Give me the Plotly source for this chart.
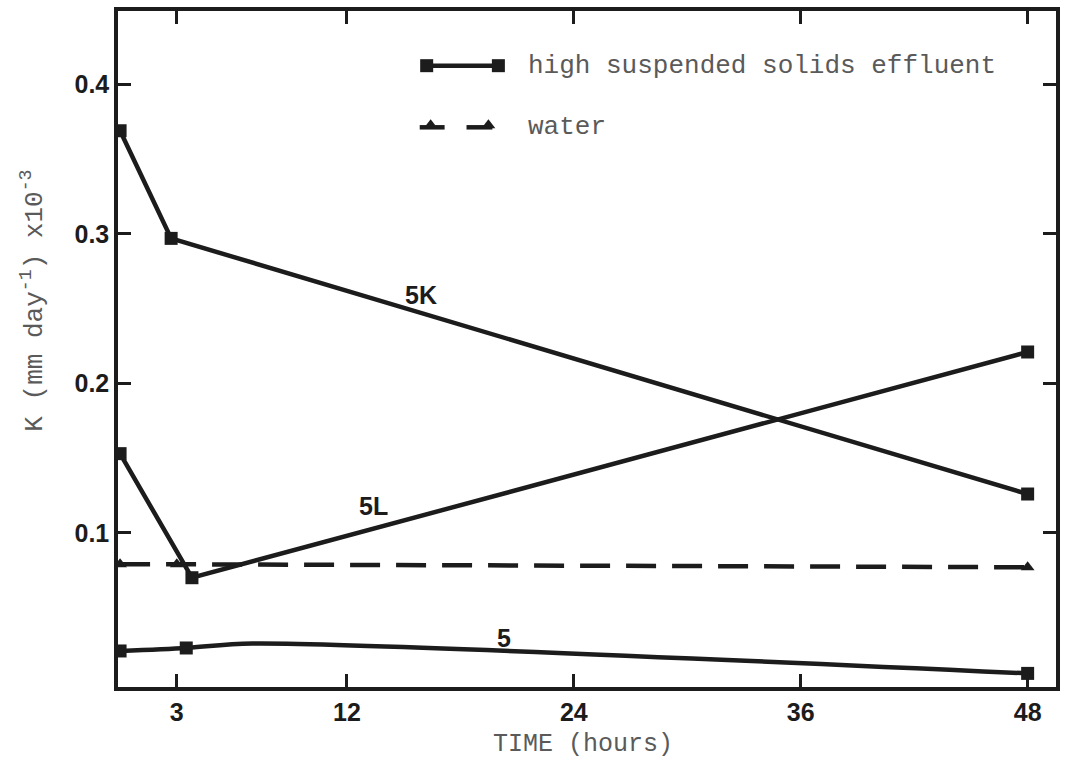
import plotly.graph_objects as go

# Hydraulic conductivity K (mm day^-1 x10^-3) against time (hours)
hours_5k = [0, 2.7, 48]
k_5k = [0.369, 0.297, 0.126]

hours_5l = [0, 3.8, 48]
k_5l = [0.153, 0.070, 0.221]

# curve 5 is smoothed through a crest near 7 h (no sample marker there)
hours_5 = [0, 3.5, 7, 48]
k_5 = [0.021, 0.023, 0.026, 0.006]
sampled_5 = [True, True, False, True]

hours_water = [0, 3, 48]
k_water = [0.079, 0.079, 0.077]

x_ticks = [3, 12, 24, 36, 48]
y_ticks = [0.1, 0.2, 0.3, 0.4]

INK = "#1c1c1c"
GREY_TEXT = "#5a5a5a"
TYPE_FONT = "Liberation Mono, DejaVu Sans Mono, monospace"
BOLD_FONT = "Liberation Sans Narrow, Liberation Sans, Arial, sans-serif"

PLOT_L, PLOT_R, PLOT_T, PLOT_B = 118, 1060, 7, 687


def px_to_paper(px, py):
    return ((px - PLOT_L) / (PLOT_R - PLOT_L), (PLOT_B - py) / (PLOT_B - PLOT_T))


fig = go.Figure()

solid = dict(color=INK, width=4.5)
sq = dict(symbol="square", size=13, color=INK)

fig.add_trace(go.Scatter(x=hours_5k, y=k_5k, mode="lines+markers",
                         line=solid, marker=sq, showlegend=False))
fig.add_trace(go.Scatter(x=hours_5l, y=k_5l, mode="lines+markers",
                         line=solid, marker=sq, showlegend=False))
fig.add_trace(go.Scatter(x=hours_5, y=k_5, mode="lines",
                         line=dict(color=INK, width=4.5, shape="spline", smoothing=0.8),
                         showlegend=False))
fig.add_trace(go.Scatter(x=[h for h, s in zip(hours_5, sampled_5) if s],
                         y=[k for k, s in zip(k_5, sampled_5) if s],
                         mode="markers", marker=sq, showlegend=False))
fig.add_trace(go.Scatter(x=hours_water, y=k_water, mode="lines+markers",
                         line=dict(color=INK, width=4.5, dash="30px,16px"),
                         marker=dict(symbol="triangle-up", size=12, color=INK),
                         showlegend=False))

# Legend key drawn on a pixel-scaled overlay axis
fig.add_trace(go.Scatter(x=[428, 500], y=[62, 62], mode="lines+markers",
                         line=solid, marker=sq, xaxis="x2", yaxis="y2",
                         showlegend=False, hoverinfo="skip"))
fig.add_trace(go.Scatter(x=[421, 446, None, 468, 494], y=[124, 124, None, 124, 124],
                         mode="lines", line=dict(color=INK, width=4.5),
                         xaxis="x2", yaxis="y2", showlegend=False, hoverinfo="skip"))
fig.add_trace(go.Scatter(x=[432, 490], y=[122, 122], mode="markers",
                         marker=dict(symbol="triangle-up", size=12, color=INK),
                         xaxis="x2", yaxis="y2", showlegend=False, hoverinfo="skip"))

legend_font = dict(family=TYPE_FONT, size=26, color=GREY_TEXT)
annotations = [
    dict(x=528, y=62, xref="x2", yref="y2", text="high suspended solids effluent",
         showarrow=False, xanchor="left", yanchor="middle", font=legend_font),
    dict(x=528, y=124, xref="x2", yref="y2", text="water",
         showarrow=False, xanchor="left", yanchor="middle", font=legend_font),
]

label_font = dict(family=BOLD_FONT, size=25, color=INK, weight="bold")
for txt, lx, ly in [("5K", 15.9, 0.259), ("5L", 13.4, 0.118), ("5", 20.3, 0.0295)]:
    annotations.append(dict(x=lx, y=ly, text=txt, showarrow=False,
                            xanchor="center", yanchor="middle", font=label_font))

yx, yy = px_to_paper(33, 298)
annotations.append(dict(x=yx, y=yy, xref="paper", yref="paper",
                        text="K (mm day<sup>-1</sup>) x10<sup>-3</sup>",
                        textangle=-90, showarrow=False,
                        xanchor="center", yanchor="middle",
                        font=dict(family=TYPE_FONT, size=26, color=GREY_TEXT)))
tx, ty = px_to_paper(585, 745)
annotations.append(dict(x=tx, y=ty, xref="paper", yref="paper", text="TIME (hours)",
                        showarrow=False, xanchor="center", yanchor="middle",
                        font=dict(family=TYPE_FONT, size=25, color=GREY_TEXT)))

axis_common = dict(showgrid=False, zeroline=False, showline=True, linecolor=INK,
                   linewidth=3.5, mirror="ticks", ticks="inside", ticklen=13,
                   tickwidth=3, tickcolor=INK,
                   tickfont=dict(family=BOLD_FONT, size=25, color=INK, weight="bold"))

fig.update_layout(
    width=1067, height=761,
    margin=dict(l=PLOT_L, r=1067 - PLOT_R, t=PLOT_T, b=761 - PLOT_B),
    paper_bgcolor="white", plot_bgcolor="white",
    xaxis=dict(range=[-0.11, 49.5], tickvals=x_ticks, ticktext=[str(v) for v in x_ticks],
               **axis_common),
    yaxis=dict(range=[-0.0031, 0.4491], tickvals=y_ticks,
               ticktext=[f"{v:.1f}" for v in y_ticks], **axis_common),
    xaxis2=dict(overlaying="x", range=[PLOT_L, PLOT_R], visible=False, fixedrange=True),
    yaxis2=dict(overlaying="y", range=[PLOT_B, PLOT_T], visible=False, fixedrange=True),
    annotations=annotations,
)

fig.write_html("out.html")
